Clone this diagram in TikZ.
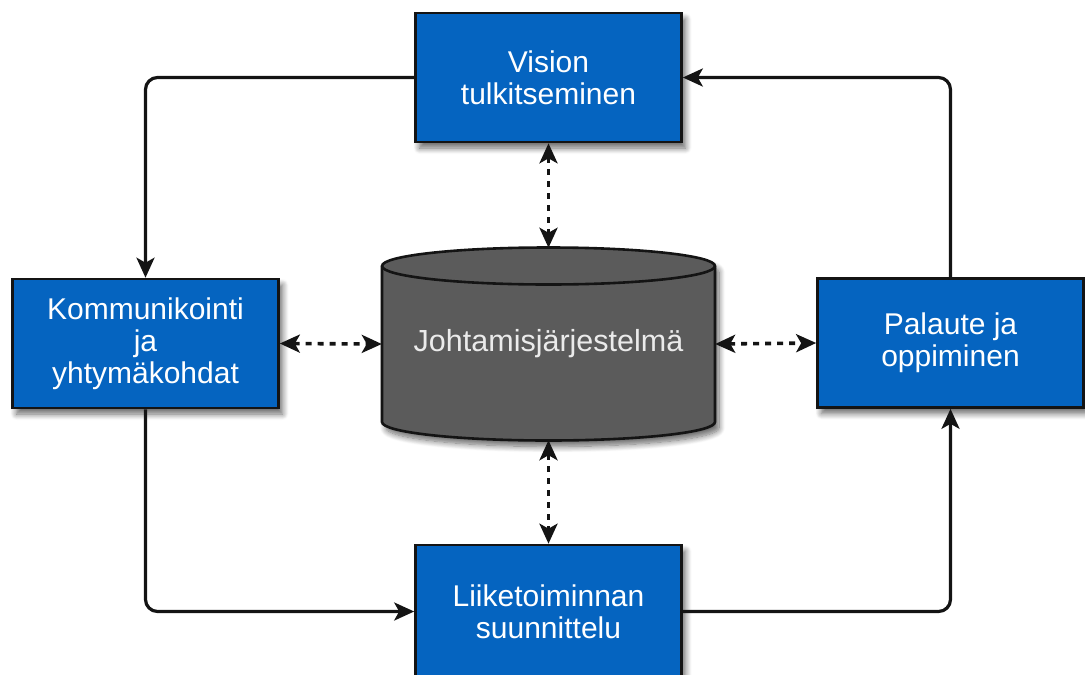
\documentclass[tikz,border=0pt]{standalone}
\usepackage{fontspec}
\setmainfont{Liberation Sans}
\usetikzlibrary{arrows.meta,shadows.blur}
\definecolor{boxblue}{HTML}{0564C0}
\definecolor{dbgray}{HTML}{5B5B5B}
\definecolor{edge}{HTML}{141414}
\begin{document}
\begin{tikzpicture}[x=1pt,y=-1pt,
  softshadow/.style={blur shadow={shadow xshift=4pt, shadow yshift=-6pt, shadow blur radius=6pt, shadow blur steps=10, shadow opacity=60}},
  blockbox/.style={draw=edge, line width=2.6pt, fill=boxblue, text=white, align=center,
    minimum width=266pt, minimum height=129pt, inner sep=0pt,
    font=\fontsize{30}{32}\selectfont, softshadow},
  flow/.style={draw=edge, line width=3.2pt, rounded corners=12pt, -{Stealth[length=20pt,width=18pt,inset=5pt]}},
  link/.style={draw=edge, line width=3.6pt, dash pattern=on 6pt off 6pt,
    {Stealth[length=20pt,width=18pt,inset=5pt]}-{Stealth[length=20pt,width=18pt,inset=5pt]}}]
\useasboundingbox (0,0) rectangle (1085,675);
\clip (0,0) rectangle (1085,675);

% cylinder body (management system store)
\path[fill=dbgray, draw=edge, line width=2.6pt, softshadow]
  (382,266) -- (382,422)
  arc[start angle=180, end angle=360, x radius=166.5pt, y radius=18.5pt]
  -- (715,266)
  arc[start angle=0, end angle=180, x radius=166.5pt, y radius=18.5pt] -- cycle;
\draw[edge, line width=2.6pt] (382,266)
  arc[start angle=180, end angle=360, x radius=166.5pt, y radius=18.5pt];
\node[minimum width=333pt, minimum height=192pt, inner sep=0pt, text=white!92!black,
  font=\fontsize{30.5}{32}\selectfont] (db) at (548.5,344) {Johtamisjärjestelmä};

% process boxes
\node[blockbox] (vision) at (548.5,77.5) {Vision\\tulkitseminen};
\node[blockbox] (komm) at (145.5,343.5) {Kommunikointi\\ja\\yhtymäkohdat};
\node[blockbox] (palaute) at (950.5,343) {Palaute ja\\oppiminen};
\node[blockbox, minimum height=133pt] (liike) at (548.5,611.5) {Liiketoiminnan\\suunnittelu};

% cycle connectors
\draw[flow] (vision.west) -- (komm.north |- vision.west) -- (komm.north);
\draw[flow] (komm.south) -- (komm.south |- liike.west) -- (liike.west);
\draw[flow] (liike.east) -- (palaute.south |- liike.east) -- (palaute.south);
\draw[flow] (palaute.north) -- (palaute.north |- vision.east) -- (vision.east);

% links to the management system
\draw[link] (vision.south) -- (db.north);
\draw[link] (komm.east) -- (db.west);
\draw[link] (db.east) -- (palaute.west);
\draw[link] (db.south) -- (liike.north);
\end{tikzpicture}
\end{document}
